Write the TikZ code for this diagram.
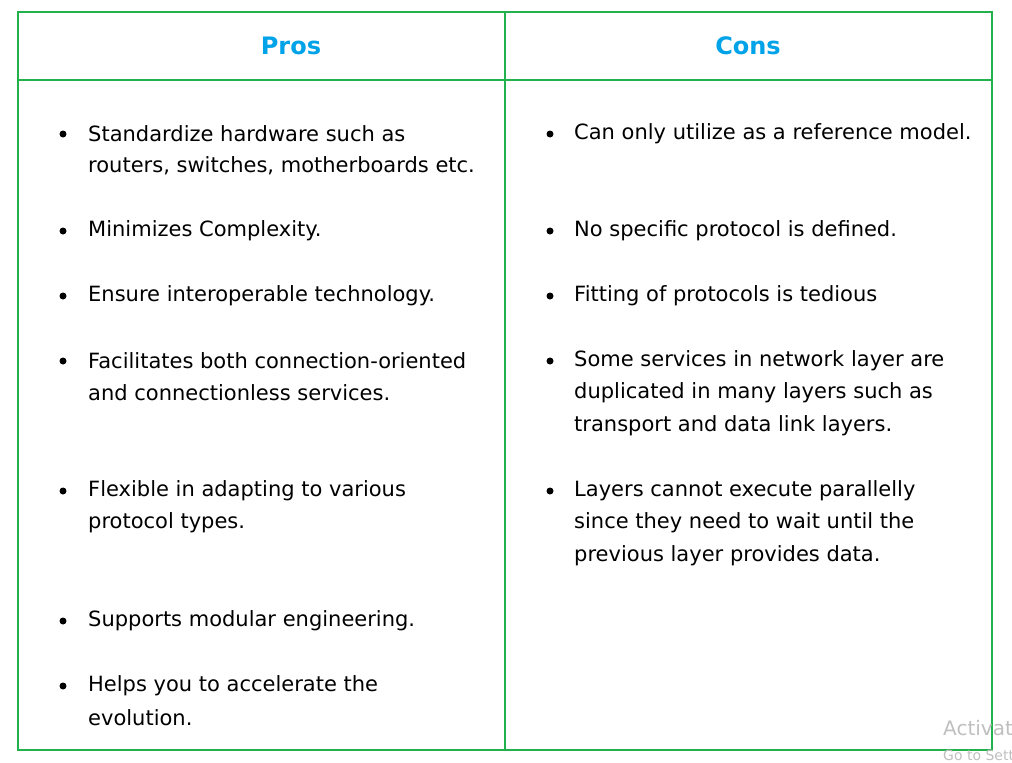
\documentclass[tikz,border=0pt]{standalone}
\usepackage{fontspec}
\setmainfont{DejaVu Sans}
\definecolor{grn}{HTML}{22B14C}
\definecolor{hdr}{HTML}{00A2E8}
\begin{document}
\begin{tikzpicture}[x=1pt,y=-1pt,
  txt/.style={anchor=west,inner sep=0pt,font=\fontsize{21}{26}\selectfont},
  hd/.style={inner sep=0pt,text=hdr,font=\fontsize{24}{28}\selectfont\bfseries},
  bul/.style={circle,fill=black,inner sep=0pt,minimum size=7pt}]
\useasboundingbox (0,0) rectangle (1012,763);
\draw[grn,line width=1.5pt] (18,12) rectangle (992,750);
\draw[grn,line width=1.5pt] (505,12) -- (505,750);
\draw[grn,line width=1.5pt] (18,80) -- (992,80);
\node[hd] (hp) at (291,46) {Pros};
\node[hd] (hc) at (748,46) {Cons};
% Pros
\foreach \y/\t [count=\i] in {134/{Standardize hardware such as},166/{routers, switches, motherboards etc.},231/{Minimizes Complexity.},296/{Ensure interoperable technology.},361/{Facilitates both connection-oriented},393/{and connectionless services.},491/{Flexible in adapting to various},523/{protocol types.},621/{Supports modular engineering.},686/{Helps you to accelerate the},718/{evolution.}}
  \node[txt] (p\i) at (88,\y) {\t};
\foreach \y [count=\i] in {134,231,296,361,491,621,686}
  \node[bul] (pb\i) at (63,\y) {};
% Cons
\foreach \y/\t [count=\i] in {134/{Can only utilize as a reference model.},231/{No specific protocol is defined.},296/{Fitting of protocols is tedious},361/{Some services in network layer are},393/{duplicated in many layers such as},426/{transport and data link layers.},491/{Layers cannot execute parallelly},523/{since they need to wait until the},556/{previous layer provides data.}}
  \node[txt] (c\i) at (574,\y) {\t};
\foreach \y [count=\i] in {134,231,296,361,491}
  \node[bul] (cb\i) at (550,\y) {};
\begin{scope}
\clip (0,0) rectangle (1012,763);
\node[anchor=west,inner sep=0pt,text=black!25,font=\fontsize{20}{20}\selectfont] (w1) at (943,728) {Activate};
\node[anchor=west,inner sep=0pt,text=black!25,font=\fontsize{14}{14}\selectfont] (w2) at (943,757) {Go to Settings};
\end{scope}
\end{tikzpicture}
\end{document}
